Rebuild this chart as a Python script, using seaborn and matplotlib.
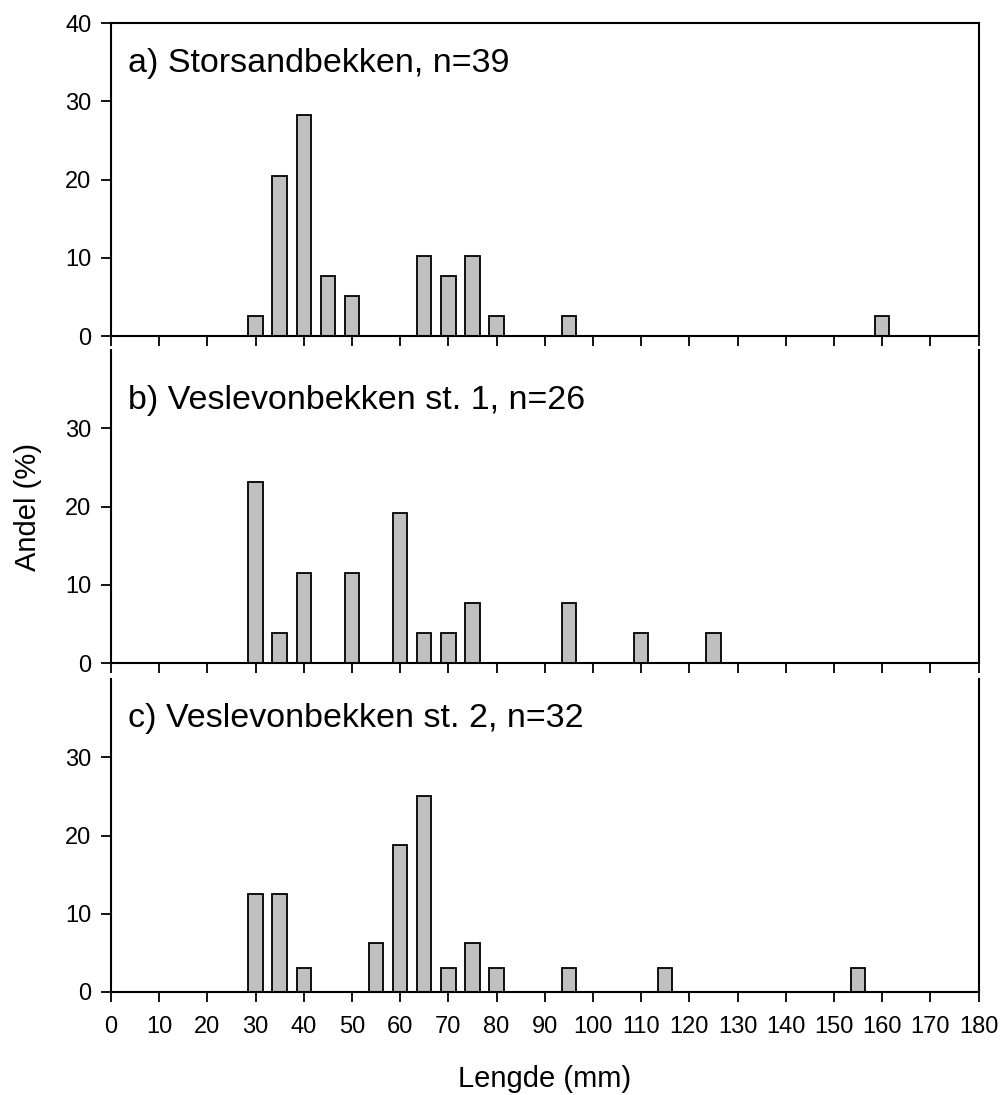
import matplotlib
matplotlib.use("Agg")
import matplotlib.pyplot as plt
import seaborn as sns
import pandas as pd

# Data (percent of fish per 5-mm length class)
len_a = [30, 35, 40, 45, 50, 65, 70, 75, 80, 95, 160]
pct_a = [2.56, 20.51, 28.21, 7.69, 5.13, 10.26, 7.69, 10.26, 2.56, 2.56, 2.56]

len_b = [30, 35, 40, 50, 60, 65, 70, 75, 95, 110, 125]
pct_b = [23.08, 3.85, 11.54, 11.54, 19.23, 3.85, 3.85, 7.69, 7.69, 3.85, 3.85]

len_c = [30, 35, 40, 55, 60, 65, 70, 75, 80, 95, 115, 155]
pct_c = [12.5, 12.5, 3.125, 6.25, 18.75, 25.0, 3.125, 6.25, 3.125, 3.125, 3.125, 3.125]

titles = ["a) Storsandbekken, n=39", "b) Veslevonbekken st. 1, n=26", "c) Veslevonbekken st. 2, n=32"]
x_ticks = list(range(0, 181, 10))

sns.set_style("ticks")
plt.rcParams['font.family'] = ['Liberation Sans', 'DejaVu Sans']
plt.rcParams['text.color'] = 'black'
plt.rcParams['axes.labelcolor'] = 'black'

fig = plt.figure(figsize=(10.02, 10.95), dpi=100)
W = 1002.0
H = 1095.0
left = 111 / W
width = (978.5 - 111) / W
ph = 313 / H
bottoms = [1 - 336 / H, 1 - 663 / H, 1 - 992 / H]
title_y = [34.8, 33.6, 34.9]

datasets = [(len_a, pct_a), (len_b, pct_b), (len_c, pct_c)]
for i, (xs, ys) in enumerate(datasets):
    ax = fig.add_axes([left, bottoms[i], width, ph])
    df = pd.DataFrame({"Lengde": xs, "Andel": ys})
    sns.barplot(data=df, x="Lengde", y="Andel", native_scale=True, width=0.6,
                color="#c0c0c0", saturation=1, edgecolor="black", linewidth=1.3,
                errorbar=None, ax=ax)
    ax.set_xlim(0, 180)
    ax.set_ylim(0, 40)
    ax.set_xticks(x_ticks)
    if i == 0:
        ax.set_yticks([0, 10, 20, 30, 40])
    else:
        ax.set_yticks([0, 10, 20, 30])
        ax.spines['top'].set_visible(False)
    for s in ['left', 'right', 'bottom', 'top']:
        ax.spines[s].set_linewidth(1.5)
        ax.spines[s].set_color('black')
    ax.tick_params(axis='both', direction='out', length=7, width=1.3,
                   labelsize=17, colors='black')
    ax.tick_params(axis='y', pad=7)
    ax.tick_params(axis='x', pad=10)
    if i < 2:
        ax.set_xticklabels([])
    else:
        ax.set_xticklabels([str(t) for t in x_ticks])
    ax.set_xlabel("")
    ax.set_ylabel("")
    ax.text(3.5, title_y[i], titles[i], fontsize=24.5, va='center', ha='left',
            color='black')

fig.text(28 / W, 1 - 507 / H, "Andel (%)", rotation=90, fontsize=21,
         va='center', ha='center', color='black')
fig.text(545 / W, 1 - 1079 / H, "Lengde (mm)", fontsize=21,
         va='center', ha='center', color='black')

fig.savefig("out.png", dpi=100, facecolor='white')
